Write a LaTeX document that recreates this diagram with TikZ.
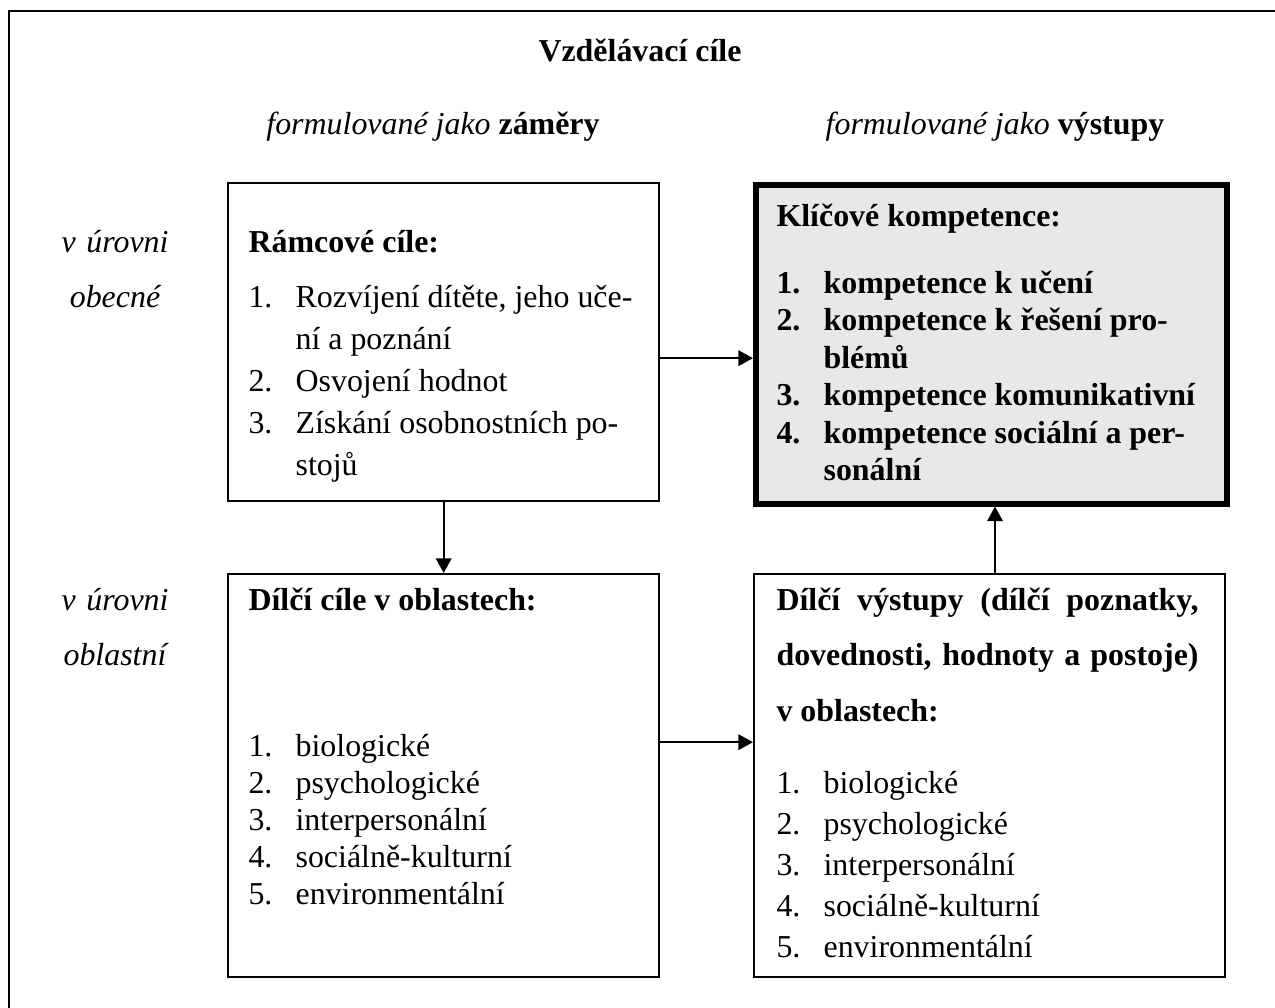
\documentclass[tikz,border=0pt]{standalone}
\usepackage{fontspec}
\setmainfont{Liberation Serif}
\usetikzlibrary{arrows.meta, positioning}
\newlength{\Px}
\setlength\Px{0.376pt}
\newlength{\NumWidth}
\setlength\NumWidth{17.7pt}
\newcommand{\listnum}[1]{\makebox[\NumWidth][l]{#1}}
\newcommand{\listcont}{\hspace*{\NumWidth}}

\begin{document}
\begin{tikzpicture}[
    x = \Px, y = -\Px, > = {Triangle[length = 5.5pt, width = 5.8pt]},
    goal/.style = {rectangle, draw, line width = 0.9pt, anchor = north west, inner sep = 0pt},
    keybox/.style = {goal, line width = 2.1pt, fill = black!9},
    boxtext/.style = {anchor = base west, inner sep = 0pt, align = flush left, text width = 160pt},
    level/.style = {anchor = base, inner sep = 0pt, align = center, text width = 60pt, font = \itshape\fontsize{12}{21}\selectfont},
    heading/.style = {anchor = base, inner sep = 0pt, font = \fontsize{12}{14}\selectfont},
    link/.style = {->, line width = 0.9pt},
    ]
    \useasboundingbox (0,0) rectangle (1275,1008);

    % outer frame, cut by the page on the right and at the bottom
    \begin{scope}
      \clip (0,0) rectangle (1275,1008);
      \draw [line width = 0.75pt] (9,11) rectangle (1300,1040);
    \end{scope}

    % titles
    \node [heading] (title)    at (640,61)  {\textbf{Vzdělávací cíle}};
    \node [heading] (aimsHead) at (433,134) {\textit{formulované jako} \textbf{záměry}};
    \node [heading] (outHead)  at (995,134) {\textit{formulované jako} \textbf{výstupy}};

    % levels
    \node [level] (levelGeneral) at (115,252) {v úrovni\\obecné};
    \node [level] (levelArea)    at (115,610) {v úrovni\\oblastní};

    % boxes
    \node [goal, minimum width = 431*\Px, minimum height = 318*\Px] (ramcove) at (227,182) {};
    \node [keybox, minimum width = 471*\Px, minimum height = 319*\Px] (klicove) at (753,182) {};
    \node [goal, minimum width = 431*\Px, minimum height = 403*\Px] (dilciCile) at (227,573) {};
    \node [goal, minimum width = 471*\Px, minimum height = 403*\Px] (dilciVystupy) at (753,573) {};

    % box texts
    \node [boxtext, font = \fontsize{12}{15.8}\selectfont] (ramcoveText) at (248,252) {%
      \textbf{Rámcové cíle:}\\[4.9pt]
      \listnum{1.}Rozvíjení dítěte, jeho uče-\\
      \listcont ní a poznání\\
      \listnum{2.}Osvojení hodnot\\
      \listnum{3.}Získání osobnostních po-\\
      \listcont stojů};
    \node [boxtext, font = \bfseries\fontsize{12}{14.1}\selectfont] (klicoveText) at (776,226) {%
      Klíčové kompetence:\\[11.1pt]
      \listnum{1.}kompetence k učení\\
      \listnum{2.}kompetence k řešení pro-\\
      \listcont blémů\\
      \listnum{3.}kompetence komunikativní\\
      \listnum{4.}kompetence sociální a per-\\
      \listcont sonální};
    \node [boxtext, font = \fontsize{12}{13.9}\selectfont] (dilciCileText) at (248,610) {%
      \textbf{Dílčí cíle v oblastech:}\\[41.3pt]
      \listnum{1.}biologické\\
      \listnum{2.}psychologické\\
      \listnum{3.}interpersonální\\
      \listnum{4.}sociálně-kulturní\\
      \listnum{5.}environmentální};
    \node [boxtext, align = justify, text width = 158.7pt, font = \bfseries\fontsize{12}{21}\selectfont] (vystupyHead) at (776,610) {%
      Dílčí výstupy (dílčí poznatky,\linebreak
      dovednosti, hodnoty a postoje)\linebreak
      v~oblastech:};
    \node [boxtext, font = \fontsize{12}{15.5}\selectfont] (vystupyList) at (776,793) {%
      \listnum{1.}biologické\\
      \listnum{2.}psychologické\\
      \listnum{3.}interpersonální\\
      \listnum{4.}sociálně-kulturní\\
      \listnum{5.}environmentální};

    % arrows
    \coordinate (toKey)  at ([yshift=-6pt]ramcove.east);
    \coordinate (toOut)  at ([yshift=12.6pt]dilciCile.east);
    \coordinate (toComp) at ([xshift=2pt]dilciVystupy.north);
    \draw [link] (toKey) -- (toKey -| klicove.west);
    \draw [link] (ramcove.south) -- (dilciCile.north);
    \draw [link] (toOut) -- (toOut -| dilciVystupy.west);
    \draw [link] (toComp) -- (toComp |- klicove.south);
\end{tikzpicture}
\end{document}
